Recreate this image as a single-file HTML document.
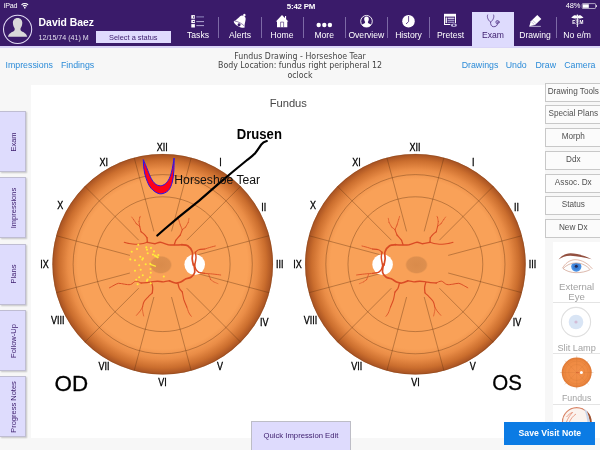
<!DOCTYPE html>
<html><head><meta charset="utf-8"><title>Fundus Drawing</title>
<style>
html,body{margin:0;padding:0}
body{width:600px;height:450px;overflow:hidden;background:#f7f7f7;position:relative;font-family:"Liberation Sans",sans-serif}
.abs{position:absolute}
#top{left:0;top:0;width:600px;height:46.4px;background:#3a1b6a}
#topline{left:0;top:46.4px;width:600px;height:2.1px;background:#dad5f7}
.nav{color:#fff;font-size:8.6px;text-align:center;white-space:nowrap;line-height:10px;width:42px;top:29.5px}
.sep{width:1px;background:#7d6aa6;top:17px;height:21px}
.blue{color:#2b8bd8;font-size:8.8px;white-space:nowrap;line-height:10px;top:59.9px}
#canvas{left:31px;top:84.6px;width:513.5px;height:353px;background:#fff}
.ltab{left:0;width:26px;height:61px;background:#dedcfd;border:1px solid #bfbdd2;border-left:none;box-sizing:border-box;box-shadow:1px 1px 1.5px rgba(0,0,0,.2)}
.ltab span{position:absolute;left:13px;top:50%;transform:translate(-50%,-50%) rotate(-90deg);white-space:nowrap;font-size:7.5px;color:#3b1b6c;line-height:9px}
.rbtn{left:545.3px;width:56px;height:19.2px;box-sizing:border-box;border:1px solid #c8c8c8;background:#fbfbfb;color:#505050;font-size:8.2px;text-align:center;line-height:16px;white-space:nowrap}
.ctr{left:150px;width:300px;text-align:center;font-family:"DejaVu Sans Condensed","Liberation Sans",sans-serif;font-size:8.76px;color:#444;line-height:9.8px;white-space:nowrap}
.glab{color:#a2a2a2;font-size:9.6px;text-align:center;white-space:nowrap;left:553.3px;width:46.7px;line-height:10px}
.hr{left:553.3px;width:46.7px;height:1px;background:#e4e4e4}
</style></head><body>
<div id="top" class="abs"></div><div id="topline" class="abs"></div>
<div class="abs" style="left:472px;top:11.5px;width:41.8px;height:35.2px;background:#dedbfd"></div>
<div class="abs" style="left:3.8px;top:2.3px;font-size:7.2px;letter-spacing:-0.25px;color:#fff;line-height:8px">iPad</div>
<div class="abs" style="left:271px;width:60px;text-align:center;top:2.5px;font-size:7.9px;letter-spacing:-0.2px;font-weight:bold;color:#fff;line-height:8px">5:42 PM</div>
<div class="abs" style="left:550px;width:30.4px;text-align:right;top:2.2px;font-size:7.5px;letter-spacing:-0.15px;color:#fff;line-height:8px">48%</div>
<div class="abs" style="left:38.6px;top:16.6px;font-size:10.4px;font-weight:bold;color:#fff;line-height:12px;white-space:nowrap">David Baez</div>
<div class="abs" style="left:38.6px;top:34px;font-size:7.1px;color:#e2deee;line-height:8px;white-space:nowrap">12/15/74 (41) M</div>
<div class="abs" style="left:95.8px;top:30.7px;width:75px;height:12.3px;background:#dfdafd;color:#3b1b6c;font-size:7.4px;line-height:13.1px;text-align:center">Select a status</div>
<div class="abs nav" style="left:177.0px;color:#fff">Tasks</div>
<div class="abs nav" style="left:219.0px;color:#fff">Alerts</div>
<div class="abs nav" style="left:261.0px;color:#fff">Home</div>
<div class="abs nav" style="left:303.2px;color:#fff">More</div>
<div class="abs nav" style="left:345.3px;color:#fff">Overview</div>
<div class="abs nav" style="left:387.5px;color:#fff">History</div>
<div class="abs nav" style="left:429.5px;color:#fff">Pretest</div>
<div class="abs nav" style="left:472.0px;color:#3b1b6c">Exam</div>
<div class="abs nav" style="left:514.0px;color:#fff">Drawing</div>
<div class="abs nav" style="left:556.2px;color:#fff">No e/m</div>
<div class="abs sep" style="left:218.2px"></div>
<div class="abs sep" style="left:260.7px"></div>
<div class="abs sep" style="left:302.8px"></div>
<div class="abs sep" style="left:345.0px"></div>
<div class="abs sep" style="left:387.0px"></div>
<div class="abs sep" style="left:429.1px"></div>
<div class="abs sep" style="left:555.7px"></div>
<svg class="abs" style="left:0;top:0" width="600" height="48" viewBox="0 0 600 48">
<!-- wifi -->
<g fill="none" stroke="#fff" stroke-width="1" stroke-linecap="butt">
<path d="M21.5 4.9 A4.8 4.8 0 0 1 28.1 4.9" stroke-width="1.1"/>
<path d="M22.9 6.25 A2.8 2.8 0 0 1 26.7 6.25" stroke-width="1.1"/>
</g>
<circle cx="24.8" cy="7.7" r="0.85" fill="#fff"/>
<!-- battery -->
<rect x="582.2" y="3.6" width="13.4" height="4.9" rx="0.8" fill="none" stroke="#fff" stroke-width="0.6"/>
<rect x="582.9" y="4.3" width="5.9" height="3.5" fill="#fff"/>
<rect x="596.1" y="5.1" width="0.8" height="1.9" fill="#fff"/>
<!-- avatar -->
<circle cx="17.6" cy="29.3" r="14.1" fill="none" stroke="#e2dcf5" stroke-width="1.05"/>
<path d="M17.6 17.9 C20.6 17.9 22.4 20 22.3 23 C22.2 25.6 21.3 27.2 20.6 28.2 C20.3 29.6 20.6 30.6 21.6 31.3 C23.6 32.4 26.4 33.4 27.2 36.8 L8 36.8 C8.8 33.4 11.600 32.400 13.600 31.300 C14.600 30.600 14.900 29.600 14.600 28.200 C13.900 27.200 13 25.600 12.900 23 C12.800 20 14.600 17.900 17.600 17.900Z" fill="#d9d9d9"/>
<!-- tasks -->
<g fill="#fff"><rect x="191.3" y="15.1" width="3.6" height="3.6"/><rect x="191.3" y="19.8" width="3.6" height="3.3"/><rect x="191.3" y="24.1" width="3.6" height="3.4"/></g>
<g fill="#3b1b6c"><rect x="193.2" y="16.2" width="1" height="1.6"/><rect x="192.8" y="21" width="1.6" height="0.9"/></g>
<rect x="196.3" y="16.1" width="7.7" height="1.5" fill="#7565a3"/>
<rect x="196.3" y="21.1" width="7.7" height="1" fill="#b3a8d2"/>
<rect x="196.3" y="25.1" width="7.7" height="1" fill="#b3a8d2"/>
<!-- bell -->
<g transform="translate(239.5 24) rotate(28.5)">
<circle cx="0" cy="-10.2" r="1.25" fill="#fff"/>
<path d="M-6.3 0 C-4.2 -1.4 -4.3 -5.5 -2.6 -8 C-1.4 -9.700 1.400 -9.700 2.600 -8 C4.300 -5.500 4.200 -1.400 6.300 0 C6.3 1.5 3.5 2.6 0 2.6 C-3.5 2.6 -6.3 1.5 -6.3 0Z" fill="#fff"/>
<path d="M-5.8 -0.3 C-3 -1.6 3 -1.6 5.8 -0.3" fill="none" stroke="#3b1b6c" stroke-width="0.5"/>
<circle cx="0" cy="0.9" r="1.5" fill="#3b1b6c"/>
</g>
<!-- home -->
<path d="M282 15 L288.4 21.4 L287.3 21.4 L287.3 27.3 L277 27.3 L277 21.4 L275.9 21.4Z" fill="#fff"/>
<rect x="285" y="16" width="1.1" height="3" fill="#fff"/>
<path d="M280.6 27.3 V22.1 H283.6 V27.3" fill="none" stroke="#3b1b6c" stroke-width="0.6"/>
<!-- more -->
<circle cx="318.7" cy="25" r="2.2" fill="#fff"/><circle cx="324.3" cy="25" r="2.2" fill="#fff"/><circle cx="329.9" cy="25" r="2.2" fill="#fff"/>
<!-- overview -->
<circle cx="366.5" cy="21.25" r="5.8" fill="none" stroke="#fff" stroke-width="0.9"/>
<path d="M366.5 16.6 C368 16.6 368.9 17.7 368.8 19.2 C368.7 20.5 368.3 21.3 367.9 21.8 C367.8 22.5 368 23 368.500 23.300 C369.500 23.800 370.800 24.300 371.100 25.200 C370 26.500 368.300 27.050 366.500 27.050 C364.700 27.050 363 26.500 361.900 25.200 C362.200 24.300 363.500 23.800 364.500 23.300 C365 23 365.200 22.500 365.100 21.800 C364.700 21.300 364.300 20.500 364.200 19.200 C364.100 17.700 365 16.600 366.500 16.600Z" fill="#fff"/>
<!-- history -->
<circle cx="408.5" cy="21.25" r="6.25" fill="#fff"/>
<path d="M408.6 16.4 V21.6 L406.3 23.7" fill="none" stroke="#3b1b6c" stroke-width="0.8" stroke-linecap="round" stroke-linejoin="round"/>
<!-- pretest -->
<rect x="444" y="13.8" width="12" height="11.2" fill="#fff"/>
<rect x="445" y="16.6" width="10" height="7.4" fill="#3b1b6c"/>
<rect x="445.6" y="17.5" width="1.3" height="5.6" fill="#fff"/>
<rect x="447.6" y="17.6" width="6.8" height="1.5" fill="#cfc6e6"/>
<rect x="447.6" y="19.8" width="6.8" height="1.2" fill="#a79bc9"/>
<rect x="447.6" y="21.7" width="6.8" height="1.2" fill="#a79bc9"/>
<ellipse cx="453.9" cy="25.3" rx="3.7" ry="2.3" fill="#3b1b6c"/>
<ellipse cx="453.9" cy="25.3" rx="3" ry="1.7" fill="#bdb3da"/>
<circle cx="453.9" cy="25.2" r="1" fill="#3b1b6c"/>
<!-- stethoscope -->
<g fill="none" stroke="#4b2c82" stroke-width="0.8" stroke-linecap="round">
<path d="M487.6 15 C486.6 17 488.3 20.5 490.600 22.100 C492.900 20.500 494.600 17 493.600 15"/>
<path d="M490.6 22.1 C490.4 24.5 491.3 26.5 493.300 26.700 C495.800 26.900 497.500 25.600 497.500 23.800"/>
<circle cx="497.5" cy="22.1" r="1.6"/>
</g>
<circle cx="497.5" cy="22.1" r="0.6" fill="#4b2c82"/>
<!-- drawing (pencil) -->
<path d="M529.3 26.2 L530.8 21.3 L537.3 15 L541.3 19 L535 25 Z" fill="#fff"/>
<path d="M531.3 21.7 L534.6 24.9 M532.6 20.2 L536 23.6" stroke="#3b1b6c" stroke-width="0.4" stroke-opacity="0.7" fill="none"/>
<rect x="529.3" y="25.9" width="11.5" height="0.8" fill="#d5cde9"/>
<!-- caduceus -->
<g fill="#fff">
<rect x="576.9" y="15" width="0.9" height="12"/>
<circle cx="577.35" cy="15.3" r="0.9"/>
<path d="M577.3 18.3 L577.3 16.6 C575.8 15.2 574.8 15 573.8 15.6 C573 16.4 572.2 17 571.2 17.4 C573 18.4 575.5 18.5 577.3 18.3Z"/>
<path d="M577.4 18.3 L577.4 16.6 C578.9 15.2 579.9 15 580.9 15.6 C581.7 16.4 582.5 17 583.5 17.4 C581.7 18.4 579.2 18.5 577.4 18.3Z"/>
</g>
<path d="M575.5 19.5 C579.5 20.5 579.5 21.5 577.350 22.300 C575.2 23.1 575.200 24 577.350 24.800 M579.2 19.500 C575.200 20.500 575.200 21.500 577.350 22.300 C579.500 23.100 579.500 24 577.350 24.800" fill="none" stroke="#fff" stroke-width="0.45"/>
<text x="573.7" y="24.3" font-family="'Liberation Sans',sans-serif" font-weight="bold" font-size="4.7" fill="#fff" text-anchor="middle">E</text>
<text x="581.4" y="24.3" font-family="'Liberation Sans',sans-serif" font-weight="bold" font-size="4.7" fill="#fff" text-anchor="middle">M</text>
</svg>

<div class="abs blue" style="left:5.5px">Impressions</div><div class="abs blue" style="left:61px">Findings</div>
<div class="abs blue" style="left:461.7px">Drawings</div><div class="abs blue" style="left:505.7px">Undo</div><div class="abs blue" style="left:535.5px">Draw</div><div class="abs blue" style="left:564.2px">Camera</div>
<div class="abs ctr" style="top:51.6px">Fundus Drawing - Horseshoe Tear<br>Body Location: fundus right peripheral 12<br>oclock</div>
<div id="canvas" class="abs"></div>
<div class="abs ltab" style="top:111px"><span>Exam</span></div>
<div class="abs ltab" style="top:177.4px"><span>Impressions</span></div>
<div class="abs ltab" style="top:243.8px"><span>Plans</span></div>
<div class="abs ltab" style="top:310.2px"><span>Follow-Up</span></div>
<div class="abs ltab" style="top:376.4px"><span>Progress Notes</span></div>
<div class="abs rbtn" style="top:82.5px">Drawing Tools</div>
<div class="abs rbtn" style="top:105.2px">Special Plans</div>
<div class="abs rbtn" style="top:128.0px">Morph</div>
<div class="abs rbtn" style="top:150.8px">Ddx</div>
<div class="abs rbtn" style="top:173.5px">Assoc. Dx</div>
<div class="abs rbtn" style="top:196.2px">Status</div>
<div class="abs rbtn" style="top:219.0px">New Dx</div>
<div class="abs" style="left:552.6px;top:241.8px;width:47.4px;height:196px;background:#fff"></div>
<div class="abs glab" style="top:282px;font-size:9.6px">External</div>
<div class="abs glab" style="top:291.8px;font-size:9.6px">Eye</div>
<div class="abs hr" style="top:302.2px"></div>
<div class="abs glab" style="top:342.6px;font-size:9.2px">Slit Lamp</div>
<div class="abs hr" style="top:353.4px"></div>
<div class="abs glab" style="top:393.2px;font-size:8.8px">Fundus</div>
<div class="abs hr" style="top:403.8px"></div>
<svg class="abs" style="left:545px;top:240px" width="55" height="200" viewBox="545 240 55 200">
<defs>
<radialGradient id="fi" cx="0.5" cy="0.5" r="0.5"><stop offset="0" stop-color="#f4914a"/><stop offset="0.8" stop-color="#ef8a42"/><stop offset="1" stop-color="#de7834"/></radialGradient>
<clipPath id="c4"><circle cx="576.7" cy="422" r="15"/></clipPath>
</defs>
<!-- external eye -->
<path d="M558.5 259.6 C561.5 255.5 566 253.300 570.500 253.300 C577 253.400 585 255.700 591.700 259.300 C585 257.600 577 255.900 570.500 255.700 C566 255.600 562 257 558.500 259.600Z" fill="#935040"/>
<path d="M562.4 268.3 C565 263.600 569.500 259.900 575 259.700 C582 259.600 588.500 264 592.400 268.900" fill="none" stroke="#d29b86" stroke-width="0.7"/>
<clipPath id="eyec"><path d="M563 268.600 C566.500 265 571 262.900 576 262.900 C582 263 587 265.800 590.200 269.600 C586.500 271.600 581 272.800 576 272.700 C571 272.600 566.500 271.200 563 268.600Z"/></clipPath>
<path d="M563 268.600 C566.500 265 571 262.900 576 262.900 C582 263 587 265.800 590.200 269.600 C586.500 271.600 581 272.800 576 272.700 C571 272.600 566.500 271.200 563 268.600Z" fill="#fdfdfd"/>
<g clip-path="url(#eyec)">
<circle cx="576.3" cy="266.6" r="5.1" fill="#4a90e2"/>
<circle cx="576.3" cy="266.6" r="3.2" fill="#3a7fd8"/>
<circle cx="576.3" cy="266.3" r="1.5" fill="#232a55"/>
</g>
<path d="M563 268.600 C566.500 265 571 262.900 576 262.900 C582 263 587 265.800 590.200 269.600 C586.500 271.600 581 272.800 576 272.700 C571 272.600 566.500 271.200 563 268.600Z" fill="none" stroke="#c58a76" stroke-width="0.6"/>
<!-- slit lamp -->
<circle cx="576" cy="322" r="14.6" fill="#fff" stroke="#dfdfdf" stroke-width="1.1"/>
<circle cx="576" cy="322" r="7.3" fill="#d9e5f5"/>
<circle cx="576" cy="322" r="1.6" fill="#d3bcd6"/>
<!-- fundus -->
<g stroke="#d8b9a0" stroke-width="0.5">
<path d="M576.7 355.7v2M576.7 387.300v2M559.9 372.500h2M591.500 372.500h2M564.800 360.600l1.400 1.400M587.200 383l1.400 1.400M588.600 360.600l-1.400 1.400M566.200 383l-1.400 1.400"/>
</g>
<circle cx="576.7" cy="372.5" r="15" fill="url(#fi)"/>
<g fill="none" stroke="#b5642c" stroke-width="0.35" stroke-opacity="0.4">
<circle cx="576.7" cy="372.5" r="11.5"/><circle cx="576.7" cy="372.5" r="8"/>
<path d="M576.7 357.500v30M561.700 372.500h30M566.100 361.900l21.200 21.200M587.300 361.900l-21.200 21.200"/>
</g>
<circle cx="581.4" cy="372.6" r="1.5" fill="#fff"/>
<path d="M579.5 372.600h-3.500" stroke="#d8502a" stroke-width="0.5"/>
<!-- eye cross-section (partial) -->
<g clip-path="url(#c4)">
<circle cx="576.7" cy="422" r="15" fill="#fbf3ee"/>
<circle cx="576.7" cy="422" r="14.3" fill="none" stroke="#d9876a" stroke-width="1.3"/>
<path d="M585.500 408 C587.500 412 589 417 590 423 L594 423 L592 409Z" fill="#9c5232"/>
<path d="M584 409 C586 413 587 418 587.500 423 L590 423 C589 417 587.500 412 585.500 408Z" fill="#c9d6ea"/>
<path d="M566 423 C568 418 570 415 573 412 M569 423 C570.500 419 573 416 576 414 M566.500 417 C568 415 570 413.500 572 412.500" fill="none" stroke="#d8502a" stroke-width="0.5"/>
</g>
</svg>

<svg class="abs" style="left:0;top:0" width="600" height="450" viewBox="0 0 600 450">
<defs>
<radialGradient id="fg" gradientUnits="userSpaceOnUse" cx="162.7" cy="264.2" r="110.3">
<stop offset="0" stop-color="#f9a158"/><stop offset="0.77" stop-color="#f9a158"/><stop offset="0.86" stop-color="#ea8d47"/><stop offset="0.94" stop-color="#cb6e2e"/><stop offset="1" stop-color="#a55021"/>
</radialGradient>
<radialGradient id="mac"><stop offset="0" stop-color="#d98b4b"/><stop offset="0.84" stop-color="#dc8e4e" stop-opacity="0.95"/><stop offset="1" stop-color="#ea9852" stop-opacity="0"/></radialGradient>
<g id="fundus">
<circle cx="162.7" cy="264.2" r="110.3" fill="url(#fg)"/>
<circle cx="162.7" cy="264.2" r="109.89999999999999" fill="none" stroke="#8a4a1e" stroke-width="0.8" stroke-opacity="0.55"/>
<g fill="none" stroke="#5e3210" stroke-width="0.55" stroke-opacity="0.7">
<circle cx="162.7" cy="264.2" r="89.6"/>
<circle cx="162.7" cy="264.2" r="67.4"/>
<path d="M171.5 231.4L191.2 157.7M186.7 240.2L240.7 186.2M195.5 255.4L269.2 235.7M195.5 273.0L269.2 292.7M186.7 288.2L240.7 342.2M171.5 297.0L191.2 370.7M153.9 297.0L134.2 370.7M138.7 288.2L84.7 342.2M129.9 273.0L56.2 292.7M129.9 255.4L56.2 235.7M138.7 240.2L84.7 186.2M153.9 231.4L134.2 157.7"/>
</g>
</g>
<g id="fundusfg">
<ellipse cx="160.8" cy="264.8" rx="11.6" ry="9.3" fill="url(#mac)"/>
<circle cx="194.7" cy="264.6" r="10.3" fill="#fff"/>
<g fill="none" stroke="#da4b24" stroke-linecap="round" stroke-linejoin="round">
<path stroke-width="1.73" d="M193.3 265.0C193.1 264.0 192.4 261.2 192.2 259.0C192.0 256.8 193.1 253.9 192.3 251.7C191.6 249.5 189.5 246.9 187.7 245.7C185.9 244.5 182.7 244.9 181.7 244.7"/>
<path stroke-width="1.40" d="M181.7 244.7C180.6 244.8 177.2 245.0 175.0 245.0C172.8 245.0 170.8 245.1 168.3 244.7C165.9 244.2 162.5 242.5 160.3 242.3C158.1 242.1 157.2 243.7 155.0 243.7C152.8 243.7 148.3 242.5 147.0 242.3"/>
<path stroke-width="1.07" d="M147.0 242.3C146.1 242.5 143.7 243.4 141.7 243.7C139.7 244.0 137.2 244.4 135.0 244.3C132.8 244.2 130.1 243.7 128.3 243.4C126.5 243.1 125.0 242.5 124.3 242.3"/>
<path stroke-width="1.25" d="M174.3 244.7C174.5 244.0 175.5 241.0 175.7 240.3"/>
<path stroke-width="1.15" d="M175.7 240.3C176.5 239.4 179.5 235.9 180.3 235.0"/>
<path stroke-width="1.05" d="M180.3 235.0C180.6 234.1 182.0 230.6 182.3 229.7"/>
<path stroke-width="0.85" d="M182.3 229.7C182.0 228.9 180.6 225.8 180.3 225.0"/>
<path stroke-width="0.75" d="M180.3 225.0C180.0 224.1 179.0 220.6 178.7 219.7"/>
<path stroke-width="0.65" d="M178.7 219.7C178.5 219.1 177.9 216.9 177.7 216.3"/>
<path stroke-width="0.85" d="M182.3 229.7C182.9 229.2 185.1 227.4 185.7 227.0"/>
<path stroke-width="0.75" d="M185.7 227.0C186.1 226.2 187.9 223.1 188.3 222.3"/>
<path stroke-width="0.65" d="M188.3 222.3C188.4 221.6 188.9 219.0 189.0 218.3"/>
<path stroke-width="1.25" d="M147.4 242.3C147.3 241.5 147.1 238.5 147.0 237.7"/>
<path stroke-width="1.15" d="M147.0 237.7C146.6 237.1 145.3 235.3 144.3 234.3C143.3 233.3 141.6 232.1 141.0 231.7"/>
<path stroke-width="1.05" d="M141.0 231.7C140.8 230.8 139.9 227.2 139.7 226.3"/>
<path stroke-width="0.85" d="M139.7 226.3C139.1 225.9 136.9 224.1 136.3 223.7"/>
<path stroke-width="0.75" d="M136.3 223.7C135.9 223.0 134.1 220.4 133.7 219.7"/>
<path stroke-width="0.65" d="M133.7 219.7C133.4 219.2 132.0 217.4 131.7 217.0"/>
<path stroke-width="0.85" d="M139.7 226.3C139.6 225.5 139.1 222.5 139.0 221.7"/>
<path stroke-width="0.75" d="M139.0 221.7C139.1 221.0 139.6 218.4 139.7 217.7"/>
<path stroke-width="0.65" d="M139.7 217.7C139.8 217.5 140.2 216.5 140.3 216.3"/>
<path stroke-width="1.45" d="M194.7 265.5C194.9 264.2 195.9 259.9 196.0 257.7C196.1 255.5 195.4 253.2 195.3 252.3"/>
<path stroke-width="1.15" d="M195.3 252.3C195.9 251.9 197.1 250.2 198.7 249.7C200.3 249.1 203.7 249.1 204.7 249.0"/>
<path stroke-width="0.85" d="M204.7 249.0C205.8 248.7 209.5 247.5 211.3 247.0C213.1 246.5 214.6 246.2 215.3 246.0"/>
<path stroke-width="1.45" d="M194.2 264.0C194.5 264.9 195.2 268.3 196.0 269.7C196.8 271.1 198.2 271.9 198.7 272.3"/>
<path stroke-width="1.15" d="M198.7 272.3C199.7 272.5 203.7 273.2 204.7 273.4"/>
<path stroke-width="0.85" d="M204.7 273.4C206.0 273.5 210.0 273.7 212.7 274.0C215.4 274.3 219.4 274.8 220.7 275.0"/>
<path stroke-width="0.75" d="M208.7 274.5C209.0 275.4 210.4 278.8 210.7 279.7"/>
<path stroke-width="0.65" d="M210.7 279.7C211.2 280.1 213.4 281.6 214.0 282.0"/>
<path stroke-width="0.55" d="M214.0 282.0C214.7 282.3 217.3 283.4 218.0 283.7"/>
<path stroke-width="1.72" d="M193.8 264.5C194.0 265.8 195.1 270.2 194.7 272.3C194.3 274.4 192.8 275.9 191.3 277.0C189.9 278.1 187.9 277.9 186.0 278.8C184.1 279.7 181.8 281.6 180.0 282.3C178.2 283.0 177.2 283.2 175.5 283.0C173.8 282.8 170.5 281.2 169.5 280.8"/>
<path stroke-width="1.35" d="M169.5 280.8C168.5 281.0 165.5 281.7 163.5 281.8C161.5 281.9 159.5 281.2 157.5 281.2C155.5 281.2 153.2 281.6 151.5 281.8C149.8 282.1 148.8 282.5 147.0 282.7C145.2 282.9 142.0 282.9 141.0 283.0"/>
<path stroke-width="0.98" d="M141.0 283.0C140.1 282.7 137.6 280.9 135.8 281.2C134.1 281.4 132.4 284.0 130.5 284.5C128.6 285.0 126.5 284.4 124.5 284.2C122.5 284.0 120.2 283.1 118.5 283.3C116.8 283.5 115.5 284.6 114.0 285.3C112.5 286.1 110.2 287.4 109.5 287.8"/>
<path stroke-width="1.28" d="M177.8 283.0C178.1 283.9 178.6 286.8 179.3 288.3C180.1 289.8 181.8 291.4 182.3 292.0"/>
<path stroke-width="1.05" d="M182.3 292.0C182.6 293.2 183.1 297.0 183.8 299.5C184.6 302.0 186.3 305.8 186.8 307.0"/>
<path stroke-width="0.82" d="M186.8 307.0C187.2 308.0 188.2 311.4 189.0 313.0C189.8 314.6 190.9 315.8 191.3 316.3"/>
<path stroke-width="1.28" d="M151.5 282.3C151.7 283.2 152.6 285.8 152.7 287.5C152.8 289.2 152.4 291.9 152.3 292.8"/>
<path stroke-width="1.05" d="M152.3 292.8C151.6 293.6 149.2 295.8 147.8 297.3C146.4 298.8 144.9 300.2 144.0 301.8C143.1 303.4 142.8 306.1 142.5 307.0"/>
<path stroke-width="0.82" d="M142.5 307.0C142.1 307.6 141.3 309.4 140.3 310.8C139.3 312.2 137.1 314.6 136.5 315.3"/>
<path stroke-width="0.65" d="M142.3 308.0C142.4 308.6 142.5 310.2 142.7 311.5C142.9 312.8 143.5 315.2 143.7 316.0"/>
</g>
</g>
</defs>
<use href="#fundus"/><use href="#fundusfg"/>
<use href="#fundus" transform="translate(578.1 0) scale(-1 1)"/>
<use href="#fundusfg" transform="translate(577.3 0) scale(-1 1)"/>
<g fill="#ffe93a"><circle cx="138.3" cy="244.7" r="1.05"/>
<circle cx="137" cy="249" r="1.05"/>
<circle cx="131.7" cy="251.7" r="1.05"/>
<circle cx="146.3" cy="247.4" r="1.05"/>
<circle cx="147" cy="249.7" r="1.05"/>
<circle cx="151" cy="248" r="1.05"/>
<circle cx="147.7" cy="253.3" r="1.05"/>
<circle cx="154" cy="251.4" r="1.05"/>
<circle cx="140.3" cy="256.7" r="1.05"/>
<circle cx="143" cy="258.3" r="1.05"/>
<circle cx="142.3" cy="259.6" r="1.05"/>
<circle cx="130.3" cy="259.4" r="1.05"/>
<circle cx="135" cy="260.3" r="1.05"/>
<circle cx="150.3" cy="263.7" r="1.05"/>
<circle cx="145.7" cy="264.3" r="1.05"/>
<circle cx="139.2" cy="265.3" r="1.05"/>
<circle cx="135" cy="270.7" r="1.05"/>
<circle cx="140.7" cy="269.8" r="1.05"/>
<circle cx="150.5" cy="269" r="1.05"/>
<circle cx="150.8" cy="272.8" r="1.05"/>
<circle cx="142.8" cy="275.2" r="1.05"/>
<circle cx="139.2" cy="277.3" r="1.05"/>
<circle cx="150" cy="277.3" r="1.05"/>
<circle cx="163.8" cy="276.5" r="1.05"/>
<circle cx="136.2" cy="279.7" r="1.05"/>
<circle cx="147" cy="280.8" r="1.05"/>
<circle cx="137.7" cy="284.2" r="1.05"/>
<circle cx="150.8" cy="283.3" r="1.05"/>
<circle cx="147.5" cy="279.5" r="1.05"/>
<circle cx="153" cy="254.6" r="1.1"/>
<circle cx="155" cy="255.7" r="1.1"/>
<circle cx="158.3" cy="255" r="1.1"/>
<circle cx="157.7" cy="257.3" r="1.1"/>
<circle cx="156.3" cy="256.6" r="1.1"/>
<path d="M150.300 264.300L155.300 266.200" fill="none" stroke="#ffe93a" stroke-width="1.4" stroke-linecap="round" stroke-linejoin="round"/></g>
<path d="M143.3 159.6C143.4 161.2 143.5 166.3 144.0 169.5C144.5 172.7 145.1 175.8 146.3 178.9C147.5 182.0 148.8 185.7 151.0 188.2C153.2 190.7 156.8 193.4 159.7 193.8C162.6 194.2 166.1 192.6 168.2 190.6C170.3 188.6 171.4 185.2 172.3 182.0C173.2 178.8 173.5 175.1 173.8 171.1C174.1 167.1 174.1 160.2 174.1 158.0L174.1 158.0C173.8 160.0 172.8 166.6 172.0 170.0C171.2 173.4 170.4 176.2 169.3 178.5C168.2 180.8 166.8 182.6 165.3 183.8C163.8 185.0 162.1 185.8 160.4 185.8C158.7 185.8 156.7 185.0 155.2 183.8C153.7 182.6 152.4 180.7 151.2 178.5C150.0 176.3 149.1 173.7 147.8 170.5C146.5 167.3 144.1 161.4 143.3 159.6Z" fill="#ff0018" stroke="#2412f2" stroke-width="1" stroke-linejoin="round"/>
<path d="M266.8 141 C263.5 141.8 262 143.5 261.2 144.7 C259 148 257.5 150.5 255.1 153.2 C252 156.5 249 158.5 246.500 160.500 L233.1 171.5 L218.4 183.8 L198.9 200.9 L179.3 216.7 L164.7 229 L157.3 235.5" fill="none" stroke="#000" stroke-width="2.2" stroke-linejoin="round" stroke-linecap="round"/>
<g font-family="'Liberation Sans',sans-serif" font-size="9.5" fill="#000" stroke="#000" stroke-width="0.28" text-anchor="middle">
<text transform="translate(162.3 151) scale(0.95 1.07)">XII</text>
<text transform="translate(220.5 166) scale(0.95 1.07)">I</text>
<text transform="translate(263.8 211) scale(0.95 1.07)">II</text>
<text transform="translate(279.7 267.8) scale(0.95 1.07)">III</text>
<text transform="translate(264.3 325.9) scale(0.95 1.07)">IV</text>
<text transform="translate(220 369.6) scale(0.95 1.07)">V</text>
<text transform="translate(162.6 385.6) scale(0.95 1.07)">VI</text>
<text transform="translate(104 370) scale(0.95 1.07)">VII</text>
<text transform="translate(57.8 324) scale(0.95 1.07)">VIII</text>
<text transform="translate(44.6 267.8) scale(0.95 1.07)">IX</text>
<text transform="translate(60.3 208.9) scale(0.95 1.07)">X</text>
<text transform="translate(103.7 165.5) scale(0.95 1.07)">XI</text>
<text transform="translate(415.1 151) scale(0.95 1.07)">XII</text>
<text transform="translate(473.3 166) scale(0.95 1.07)">I</text>
<text transform="translate(516.6 211) scale(0.95 1.07)">II</text>
<text transform="translate(532.5 267.8) scale(0.95 1.07)">III</text>
<text transform="translate(517.1 325.9) scale(0.95 1.07)">IV</text>
<text transform="translate(472.8 369.6) scale(0.95 1.07)">V</text>
<text transform="translate(415.4 385.6) scale(0.95 1.07)">VI</text>
<text transform="translate(356.8 370) scale(0.95 1.07)">VII</text>
<text transform="translate(310.6 324) scale(0.95 1.07)">VIII</text>
<text transform="translate(297.4 267.8) scale(0.95 1.07)">IX</text>
<text transform="translate(313.1 208.9) scale(0.95 1.07)">X</text>
<text transform="translate(356.5 165.5) scale(0.95 1.07)">XI</text>
</g>
<text transform="translate(236.8 139.3) scale(1 1.07)" font-family="'Liberation Sans',sans-serif" font-weight="bold" font-size="13.1" fill="#000">Drusen</text>
<text transform="translate(174.3 184.4) scale(1 1.04)" font-family="'Liberation Sans',sans-serif" font-size="12.2" fill="#111">Horseshoe Tear</text>
<text x="288.3" y="107" font-family="'Liberation Sans',sans-serif" font-size="11.2" fill="#484848" text-anchor="middle">Fundus</text>
<text x="54.6" y="390.5" font-family="'Liberation Sans',sans-serif" font-size="22.4" fill="#000" stroke="#000" stroke-width="0.3">OD</text>
<text x="492.3" y="390.4" font-family="'Liberation Sans',sans-serif" font-size="22.4" fill="#000" stroke="#000" stroke-width="0.3" textLength="29.6" lengthAdjust="spacingAndGlyphs">OS</text>
</svg>
<div class="abs" style="left:251.2px;top:421.2px;width:99.5px;height:30px;box-sizing:border-box;border:1px solid #bdbdc6;background:#dedbfd;color:#3b1b6c;font-size:7.7px;text-align:center;line-height:27.5px;white-space:nowrap">Quick Impression Edit</div>
<div class="abs" style="left:504.4px;top:421.8px;width:91px;height:23.2px;background:#0b7be4;color:#fff;font-weight:bold;font-size:8.7px;text-align:center;line-height:23.5px;white-space:nowrap">Save Visit Note</div>
</body></html>
